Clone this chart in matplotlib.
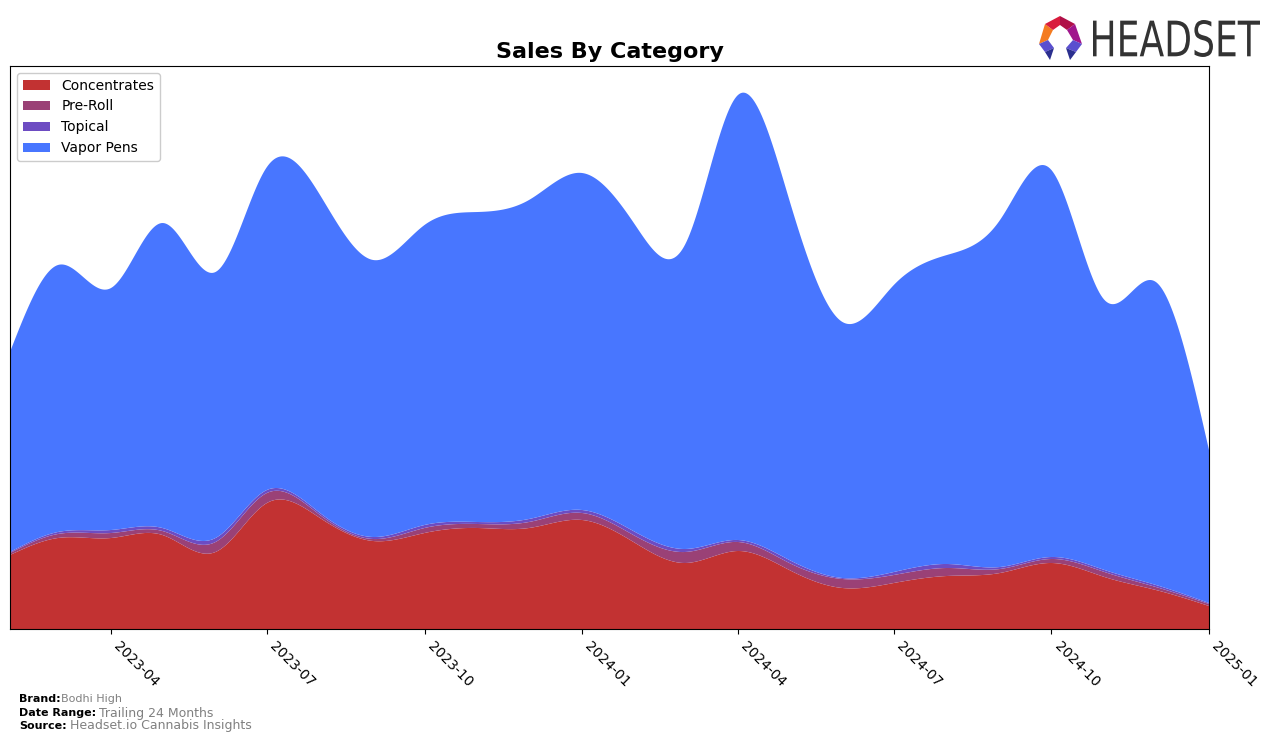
import numpy as np
import pandas as pd
import matplotlib
matplotlib.use("Agg")
import matplotlib.pyplot as plt
import matplotlib.dates as mdates
from matplotlib.patches import Polygon, PathPatch
from matplotlib.textpath import TextPath
from matplotlib.font_manager import FontProperties
from matplotlib.transforms import Affine2D

# monthly values (arbitrary units)
months = pd.date_range("2023-02-01", "2025-01-01", freq="MS")
concentrates = [74, 91, 91, 94, 77, 126, 111, 88, 96, 101, 101, 109,
                86, 66, 78, 59, 41, 46, 53, 56, 66, 52, 39, 23]
pre_roll = [2, 4, 5, 4, 10, 10, 3, 2, 5, 4, 6, 7,
            7, 11, 9, 7, 9, 8, 8, 4, 4, 5, 3, 2]
topical = [1, 2, 3, 3, 4, 3, 2, 2, 3, 2, 3, 3,
           4, 3, 2, 3, 1, 3, 4, 2, 2, 2, 2, 1]
total = [277, 364, 341, 406, 357, 462, 434, 369, 404, 417, 429, 456,
         404, 384, 534, 429, 307, 344, 374, 409, 459, 329, 347, 179]
vapor_pens = [t - c - p - q for t, c, p, q in zip(total, concentrates, pre_roll, topical)]

labels = ["Concentrates", "Pre-Roll", "Topical", "Vapor Pens"]
colors = ["#c23232", "#9a4176", "#6d4cc2", "#4876ff"]


def natural_spline(x, y, xs):
    # plain natural cubic spline, just for smoothing the monthly points
    x = np.asarray(x, float)
    y = np.asarray(y, float)
    n = len(x)
    h = np.diff(x)
    A = np.zeros((n, n))
    b = np.zeros(n)
    A[0, 0] = A[-1, -1] = 1
    for i in range(1, n - 1):
        A[i, i - 1] = h[i - 1]
        A[i, i] = 2 * (h[i - 1] + h[i])
        A[i, i + 1] = h[i]
        b[i] = 6 * ((y[i + 1] - y[i]) / h[i] - (y[i] - y[i - 1]) / h[i - 1])
    M = np.linalg.solve(A, b)
    idx = np.clip(np.searchsorted(x, xs) - 1, 0, n - 2)
    x0, x1 = x[idx], x[idx + 1]
    hh = x1 - x0
    t0, t1 = x1 - xs, xs - x0
    return (M[idx] * t0**3 / (6 * hh) + M[idx + 1] * t1**3 / (6 * hh)
            + (y[idx] / hh - M[idx] * hh / 6) * t0
            + (y[idx + 1] / hh - M[idx + 1] * hh / 6) * t1)


xn = mdates.date2num(months.to_pydatetime())
xs = np.linspace(xn[0], xn[-1], 800)
series = [concentrates, pre_roll, topical, vapor_pens]
smooth = [np.clip(natural_spline(xn, s, xs), 0, None) for s in series]

fig = plt.figure(figsize=(12.76, 7.43), dpi=100)
ax = fig.add_axes([10 / 1276, 114 / 743, 1199 / 1276, 563 / 743])
ax.stackplot(mdates.num2date(xs), *smooth, labels=labels, colors=colors)

ax.set_xlim(months[0], months[-1])
ax.set_ylim(0, 563)
ax.set_yticks([])
ax.xaxis.set_major_locator(mdates.MonthLocator(bymonth=[1, 4, 7, 10]))
ax.xaxis.set_major_formatter(mdates.DateFormatter("%Y-%m"))
for lab in ax.get_xticklabels():
    lab.set_rotation(-45)
    lab.set_ha("left")
    lab.set_fontsize(10)

ax.set_title("Sales By Category", fontsize=16, fontweight="bold", pad=6)
ax.legend(loc="upper left", fontsize=10, framealpha=1)

# footer
fig.text(19 / 1276, 1 - 699 / 743, "Brand:", fontsize=8, fontweight="bold", va="center")
fig.text(61 / 1276, 1 - 699 / 743, "Bodhi High", fontsize=8, color="gray", va="center")
fig.text(19 / 1276, 1 - 713 / 743, "Date Range:", fontsize=8, fontweight="bold", va="center")
fig.text(99 / 1276, 1 - 713 / 743, "Trailing 24 Months", fontsize=9, color="gray", va="center")
fig.text(19 / 1276, 1 - 726 / 743, "Source:", fontsize=8, fontweight="bold", va="center")
fig.text(70 / 1276, 1 - 726 / 743, "Headset.io Cannabis Insights", fontsize=9, color="gray", va="center")

# logo, drawn in an axes whose data units are pixels
lax = fig.add_axes([1030 / 1276, 1 - 66 / 743, 240 / 1276, 56 / 743])
lax.set_xlim(1030, 1270)
lax.set_ylim(66, 10)
lax.axis("off")
logo_parts = [
    ([(1039, 44), (1045, 24), (1053, 30), (1048, 40)], "#f47b20"),
    ([(1045, 24), (1060, 16), (1060, 25), (1053, 30)], "#d91c3c"),
    ([(1060, 16), (1075, 24), (1067, 30), (1060, 25)], "#b01048"),
    ([(1075, 24), (1082, 44), (1073, 40), (1067, 30)], "#a0168c"),
    ([(1039, 44), (1048, 40), (1054, 48), (1045, 52)], "#5a4fcf"),
    ([(1082, 44), (1073, 40), (1066, 48), (1076, 52)], "#5a4fcf"),
    ([(1045, 52), (1054, 48), (1050, 60)], "#2b2f8f"),
    ([(1076, 52), (1066, 48), (1070, 60)], "#2b2f8f"),
]
for pts, col in logo_parts:
    lax.add_patch(Polygon(pts, closed=True, color=col, lw=0))

tp = TextPath((0, 0), "HEADSET", size=1, prop=FontProperties(family="DejaVu Sans"))
bb = tp.get_extents()
sx = (1260 - 1093) / bb.width
sy = (57 - 20) / bb.height
tr = Affine2D().translate(-bb.x0, -bb.y0).scale(sx, -sy).translate(1093, 57)
lax.add_patch(PathPatch(tr.transform_path(tp), color="#333333", lw=0))

fig.savefig("out.png", dpi=100)
